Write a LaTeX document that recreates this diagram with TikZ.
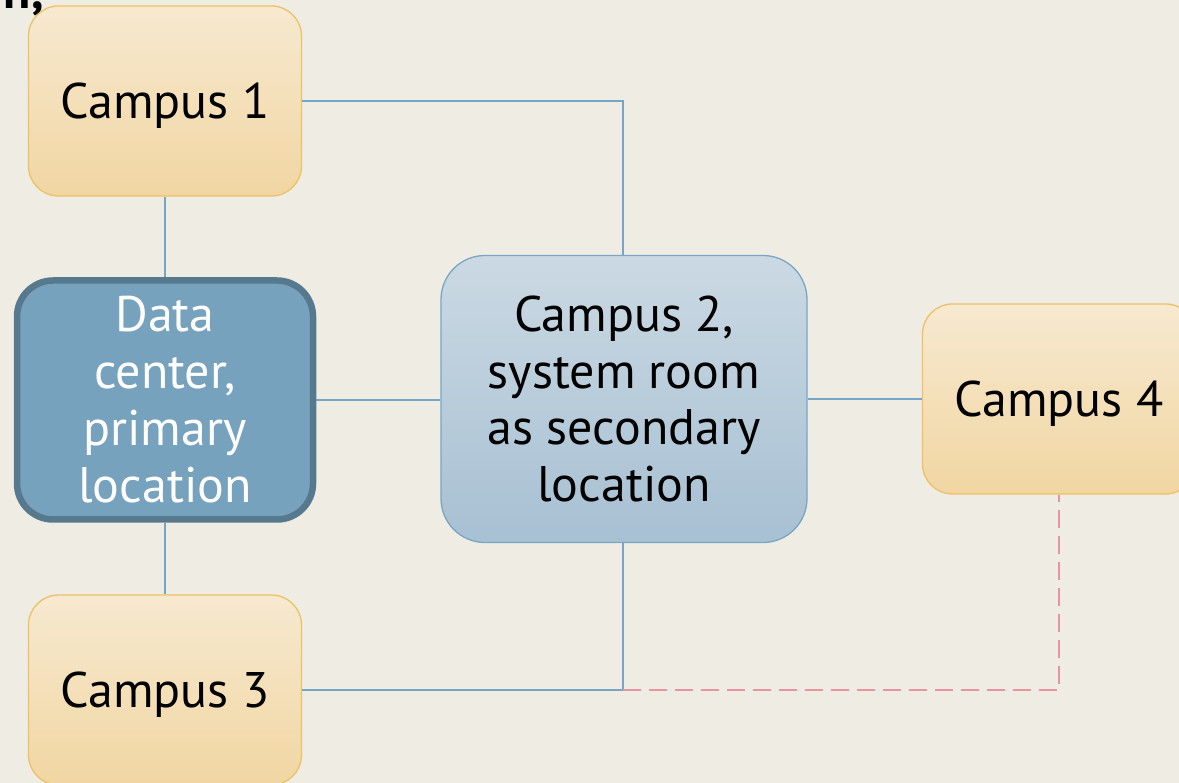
\documentclass[tikz,border=0pt]{standalone}
\usepackage{fontspec}
\setmainfont{PT Sans}
\begin{document}
\begin{tikzpicture}[x=1pt,y=-1pt,
  every node/.style={font=\fontsize{50}{57}\selectfont, align=center, inner sep=0pt},
  campus/.style={draw=campusborder, line width=1.3pt, rounded corners=30pt, text depth=0pt,
    top color=campustop, bottom color=campusbot, minimum width=273pt, minimum height=190pt},
  primary/.style={draw=dcborder, line width=6.5pt, rounded corners=36pt, fill=dcfill,
    minimum width=296pt, minimum height=239pt, text=white},
  secondary/.style={draw=c2border, line width=1.3pt, rounded corners=44pt,
    top color=c2top, bottom color=c2bot, minimum width=366pt, minimum height=287pt},
  link/.style={draw=linkblue, line width=1.5pt},
  backup/.style={draw=linkpink, line width=1.8pt, dash pattern=on 18pt off 8pt}]
\definecolor{bg}{HTML}{EFECE4}
\definecolor{campustop}{HTML}{F7E9D0}
\definecolor{campusbot}{HTML}{F1D6A2}
\definecolor{campusborder}{HTML}{EDC266}
\definecolor{dcfill}{HTML}{76A2BD}
\definecolor{dcborder}{HTML}{57798E}
\definecolor{c2top}{HTML}{CBD9E3}
\definecolor{c2bot}{HTML}{A7C0D3}
\definecolor{c2border}{HTML}{7BA5C4}
\definecolor{linkblue}{HTML}{76A6C6}
\definecolor{linkpink}{HTML}{E8939F}
\useasboundingbox (0,0) rectangle (1179,783);
\fill[bg] (0,0) rectangle (1179,783);
% cropped title fragment
\node[anchor=base east, font=\fontsize{50}{60}\selectfont\bfseries, text=black] (title) at (44,9) {n,};
% nodes
\node[campus] (c1) at (165,101) {Campus 1};
\node[primary] (dc) at (165,400) {Data\\center,\\primary\\location};
\node[secondary] (c2) at (624,399) {Campus 2,\\system room\\as secondary\\location};
\node[campus] (c4) at (1059,399) {Campus 4};
\node[campus] (c3) at (165,690) {Campus 3};
% corner coordinates
\coordinate (k1) at (623,101);
\coordinate (k3) at (623,690);
\coordinate (k4) at (1059,690);
% connectors
\path[link] (c1.east) -- (k1) -- (c2.north -| k1);
\path[link] (c1.south) -- (dc.north);
\path[link] (dc.east) -- (c2.west |- dc.east);
\path[link] (c2.east) -- (c4.west);
\path[link] (dc.south) -- (c3.north);
\path[link] (c3.east) -- (k3);
\path[link] (c2.south -| k3) -- (k3);
\path[backup] (k3) -- (k4) -- (c4.south);
\end{tikzpicture}
\end{document}
